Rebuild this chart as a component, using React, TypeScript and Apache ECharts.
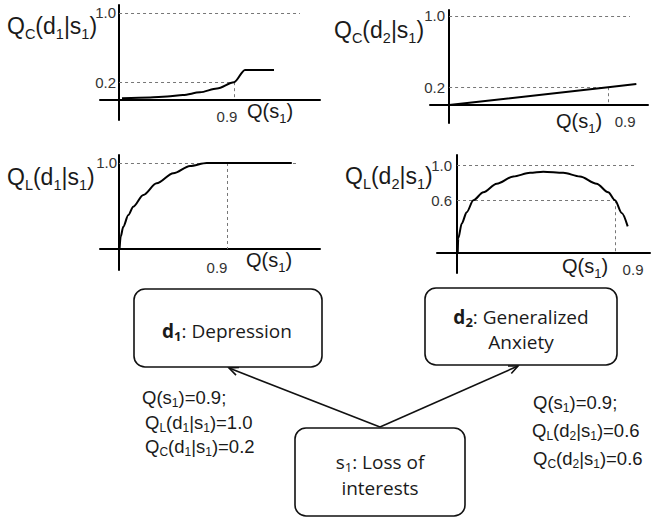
import { useEffect, useRef } from "react";
import * as echarts from "echarts";

// Strength of the symptom s1 ("Loss of interests") that every panel reads off
const SYMPTOM_Q = 0.9;

// Q_C(d1|s1): coverage of depression by s1, as a function of Q(s1)
const coverageDepression: [number, number][] = [
  [0.023, 0.015], [0.243, 0.023], [0.376, 0.034], [0.5, 0.051], [0.634, 0.083],
  [0.767, 0.127], [0.9, 0.2], [0.986, 0.342], [1.213, 0.342],
];

// Q_C(d2|s1): coverage of generalized anxiety by s1
const coverageAnxiety: [number, number][] = [
  [0, 0], [0.9, 0.2], [1.06, 0.235],
];

// Q_L(d1|s1): likelihood of depression given s1
const likelihoodDepression: [number, number][] = [
  [0.005, 0], [0.014, 0.143], [0.036, 0.259], [0.078, 0.395], [0.119, 0.492],
  [0.203, 0.628], [0.314, 0.764], [0.453, 0.88], [0.592, 0.965], [0.731, 1.0],
  [0.9, 1.0], [1.44, 1.0],
];

// Q_L(d2|s1): likelihood of generalized anxiety given s1
const likelihoodAnxiety: [number, number][] = [
  [0.004, 0], [0.007, 0.166], [0.027, 0.336], [0.055, 0.463], [0.093, 0.6],
  [0.15, 0.691], [0.226, 0.788], [0.321, 0.87], [0.416, 0.912], [0.491, 0.925],
  [0.605, 0.912], [0.7, 0.87], [0.795, 0.788], [0.861, 0.691], [0.9, 0.6],
  [0.938, 0.456], [0.972, 0.303],
];

// Values read at Q(s1) = 0.9 in each panel
const readOffLevels = [0.2, 0.2, 1.0, 0.6];
// Right end (in Q(s1) units) of the dotted 1.0 guide in each panel
const upperGuideEnds = [1.416, 1.024, 1.49, 1.014];
// Tick labels
const yTickValues = [[0.2, 1.0], [0.2, 1.0], [1.0], [0.6, 1.0]];
const xTickValues = [SYMPTOM_Q];

// Values quoted beside the diagnosis graph
const depressionQuoted = { likelihood: 1.0, coverage: 0.2 };
const anxietyQuoted = { likelihood: 0.6, coverage: 0.6 };

const SANS = "'Liberation Sans', Arial, Helvetica, sans-serif";
const BOX_FONT = "'Open Sans', 'Noto Sans', sans-serif";
const INK = "#1a1a1a";

const fmt = (v: number) => v.toFixed(1);

type PanelLayout = {
  grid: { left: number; top: number; width: number; height: number };
  x: [number, number];
  y: [number, number];
  xLabelPadding: number[];
  xLabelMargin: number;
  yLabelMargin: number;
  smooth: number | boolean;
};

const panelData = [coverageDepression, coverageAnxiety, likelihoodDepression, likelihoodAnxiety];

// Tick labels are laid out from the grid edges, so their margins are negative
// to bring them next to the axis lines that sit on zero.
const panelLayouts: PanelLayout[] = [
  {
    grid: { left: 100, top: 5, width: 220, height: 115 },
    x: [-0.149, 1.573], y: [-0.237, 1.092],
    xLabelPadding: [0, 14, 0, 0], xLabelMargin: -11, yLabelMargin: -16, smooth: 0.3,
  },
  {
    grid: { left: 430, top: 10, width: 218, height: 113 },
    x: [-0.108, 1.126], y: [-0.202, 1.067],
    xLabelPadding: [0, 0, 0, 34], xLabelMargin: -9, yLabelMargin: -15, smooth: false,
  },
  {
    grid: { left: 100, top: 155, width: 220, height: 115 },
    x: [-0.158, 1.675], y: [-0.244, 1.093],
    xLabelPadding: [0, 20, 0, 0], xLabelMargin: -10, yLabelMargin: -17, smooth: 0.3,
  },
  {
    grid: { left: 437, top: 155, width: 213, height: 118 },
    x: [-0.114, 1.099], y: [-0.227, 1.114],
    xLabelPadding: [0, 0, 0, 36], xLabelMargin: -11, yLabelMargin: -15, smooth: 0.3,
  },
];

const subStyle = (size: number, shift: number, family = SANS, weight: string = "normal") => ({
  fontSize: size,
  fontFamily: family,
  fontWeight: weight,
  fill: INK,
  padding: [shift * 2, 0, 0, 0],
});

const formula = (
  x: number,
  y: number,
  text: string,
  size: number,
  subSize: number,
  shift: number,
) => ({
  type: "text",
  x,
  y,
  silent: true,
  style: {
    text,
    fill: INK,
    fontSize: size,
    fontFamily: SANS,
    textAlign: "left",
    textVerticalAlign: "middle",
    rich: { s: subStyle(subSize, shift) },
  },
});

const boxLabel = (x: number, y: number, text: string) => ({
  type: "text",
  x,
  y,
  silent: true,
  z: 10,
  style: {
    text,
    fill: INK,
    fontSize: 19,
    fontFamily: BOX_FONT,
    textAlign: "center",
    textVerticalAlign: "middle",
    rich: {
      b: { fontSize: 19, fontFamily: BOX_FONT, fontWeight: "bold", fill: INK },
      bs: subStyle(13, 4.5, BOX_FONT, "bold"),
      s: subStyle(13, 4.5, BOX_FONT),
    },
  },
});

const box = (x: number, y: number, width: number, height: number) => ({
  type: "rect",
  silent: true,
  z: 5,
  shape: { x, y, width, height, r: 11 },
  style: { fill: "#fff", stroke: "#111", lineWidth: 1.6 },
});

const arrow = (fromX: number, fromY: number, tipX: number, tipY: number) => {
  const ang = Math.atan2(fromY - tipY, fromX - tipX);
  const len = 10;
  const spread = 0.42;
  const p1 = [tipX + len * Math.cos(ang - spread), tipY + len * Math.sin(ang - spread)];
  const p2 = [tipX + len * Math.cos(ang + spread), tipY + len * Math.sin(ang + spread)];
  return [
    {
      type: "line",
      silent: true,
      z: 3,
      shape: { x1: fromX, y1: fromY, x2: tipX, y2: tipY },
      style: { stroke: "#111", lineWidth: 1.6 },
    },
    {
      type: "polyline",
      silent: true,
      z: 3,
      shape: { points: [p1, [tipX, tipY], p2] },
      style: { stroke: "#111", lineWidth: 1.6, fill: "none" },
    },
  ];
};

function buildOption() {
  const guideStyle = { type: [3, 3] as number[], color: "#777", width: 1 };

  const series = panelData.map((data, i) => {
    const level = readOffLevels[i];
    const guides: any[] = [
      [{ coord: [0, 1.0] }, { coord: [upperGuideEnds[i], 1.0] }],
      [{ coord: [SYMPTOM_Q, level] }, { coord: [SYMPTOM_Q, 0] }],
    ];
    if (level < 1) {
      guides.push([{ coord: [0, level] }, { coord: [SYMPTOM_Q, level] }]);
    }
    return {
      type: "line",
      xAxisIndex: i,
      yAxisIndex: i,
      data,
      symbol: "none",
      showSymbol: false,
      smooth: panelLayouts[i].smooth,
      smoothMonotone: "x",
      silent: true,
      lineStyle: { color: "#000", width: 2 },
      z: 3,
      markLine: {
        silent: true,
        symbol: ["none", "none"],
        label: { show: false },
        lineStyle: guideStyle,
        z: 2,
        data: guides,
      },
    };
  });

  const axisLine = { onZero: true, lineStyle: { color: "#000", width: 2 } };
  const tickLabel = { fontSize: 15, fontFamily: SANS, color: "#333" };

  const xAxis = panelLayouts.map((p, i) => ({
    type: "value",
    gridIndex: i,
    min: p.x[0],
    max: p.x[1],
    axisLine,
    axisTick: { show: false },
    splitLine: { show: false },
    axisLabel: {
      ...tickLabel,
      customValues: xTickValues,
      formatter: (v: number) => fmt(v),
      margin: p.xLabelMargin,
      padding: p.xLabelPadding,
    },
  }));

  const yAxis = panelLayouts.map((p, i) => ({
    type: "value",
    gridIndex: i,
    min: p.y[0],
    max: p.y[1],
    axisLine,
    axisTick: { show: false },
    splitLine: { show: false },
    axisLabel: {
      ...tickLabel,
      customValues: yTickValues[i],
      formatter: (v: number) => fmt(v),
      margin: p.yLabelMargin,
    },
  }));

  const graphic: any[] = [
    // panel titles
    formula(7, 26, "Q{s|C}(d{s|1}|s{s|1})", 23, 14.5, 8),
    formula(334, 30, "Q{s|C}(d{s|2}|s{s|1})", 23, 14.5, 8),
    formula(7, 177, "Q{s|L}(d{s|1}|s{s|1})", 23, 14.5, 8),
    formula(345, 176, "Q{s|L}(d{s|2}|s{s|1})", 23, 14.5, 8),
    // horizontal axis names
    formula(247, 111, "Q(s{s|1})", 20, 13, 7),
    formula(556, 121, "Q(s{s|1})", 20, 13, 7),
    formula(246, 260, "Q(s{s|1})", 20, 13, 7),
    formula(562, 266, "Q(s{s|1})", 20, 13, 7),
    // arrows from the symptom to both diagnoses
    ...arrow(380, 427, 229, 368),
    ...arrow(380, 427, 518, 366),
    // nodes
    box(134, 289, 188, 78),
    box(425, 288, 192, 77),
    box(295, 428, 170, 88),
    boxLabel(227, 331, "{b|d}{bs|1}: Depression"),
    boxLabel(521, 317, "{b|d}{bs|2}: Generalized"),
    boxLabel(521, 342, "Anxiety"),
    boxLabel(380, 462, "s{s|1}: Loss of"),
    boxLabel(380, 488, "interests"),
    // quoted values on the edges
    formula(142, 397, `Q(s{s|1})=${fmt(SYMPTOM_Q)};`, 18.5, 12, 6),
    formula(145, 422, `Q{s|L}(d{s|1}|s{s|1})=${fmt(depressionQuoted.likelihood)}`, 18.5, 12, 6),
    formula(145, 446, `Q{s|C}(d{s|1}|s{s|1})=${fmt(depressionQuoted.coverage)}`, 18.5, 12, 6),
    formula(533, 402, `Q(s{s|1})=${fmt(SYMPTOM_Q)};`, 18.5, 12, 6),
    formula(532, 430, `Q{s|L}(d{s|2}|s{s|1})=${fmt(anxietyQuoted.likelihood)}`, 18.5, 12, 6),
    formula(533, 458, `Q{s|C}(d{s|2}|s{s|1})=${fmt(anxietyQuoted.coverage)}`, 18.5, 12, 6),
  ];

  return {
    animation: false,
    backgroundColor: "#fff",
    grid: panelLayouts.map((p) => ({ ...p.grid, containLabel: false, outerBoundsMode: "none" })),
    xAxis,
    yAxis,
    series,
    graphic,
  };
}

export default function App() {
  const ref = useRef<HTMLDivElement>(null);

  useEffect(() => {
    if (!ref.current) return;
    const chart = echarts.init(ref.current, undefined, { renderer: "svg" });
    chart.setOption(buildOption() as any);
    return () => chart.dispose();
  }, []);

  return (
    <div
      ref={ref}
      style={{ position: "fixed", left: 0, top: 0, width: 651, height: 518, background: "#fff" }}
    />
  );
}
